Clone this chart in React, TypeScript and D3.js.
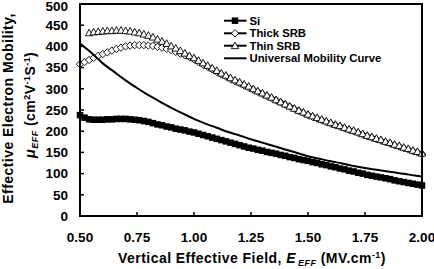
import React from "react";
import * as d3 from "d3";

// Vertical effective field sampling (MV/cm)
const FIELD_START = 0.5;
const FIELD_STEP = 0.02;
const THIN_START = 0.54;

// Electron mobility (cm^2/V.s) for bulk Si
const siMobility = [
  238, 232, 228, 227, 227, 227, 228, 228, 229, 229, 229, 228, 227, 226, 224, 222,
  219, 216, 214, 211, 209, 206, 204, 202, 199, 197, 194, 191, 188, 185, 182, 179,
  176, 173, 170, 167, 164, 161, 159, 156, 154, 151, 149, 147, 144, 142, 139, 137,
  134, 132, 130, 127, 125, 122, 120, 117, 115, 112, 110, 107, 105, 102, 100, 97,
  95, 93, 91, 89, 87, 84, 82, 80, 78, 76, 74, 72,
];

// Strained Si on thick strain-relaxed buffer
const thickSrbMobility = [
  358, 363, 368, 373, 378, 382, 386, 390, 394, 397, 400, 402, 403, 403, 403, 402,
  401, 399, 397, 394, 391, 387, 383, 379, 375, 370, 363, 357, 352, 346, 340, 334,
  329, 323, 318, 313, 308, 303, 298, 293, 288, 283, 278, 273, 268, 263, 258, 253,
  248, 243, 238, 234, 230, 226, 222, 218, 214, 211, 207, 203, 200, 196, 192, 188,
  185, 181, 178, 174, 171, 167, 164, 160, 157, 153, 150, 146,
];

// Strained Si on thin strain-relaxed buffer
const thinSrbMobility = [
  432, 434, 435, 436, 437, 437, 438, 438, 437, 436, 434, 432, 429, 426, 422, 417,
  412, 407, 401, 396, 390, 384, 378, 373, 367, 361, 355, 349, 343, 337, 332, 326,
  321, 316, 311, 306, 300, 295, 290, 285, 280, 274, 269, 264, 259, 254, 249, 245,
  240, 236, 232, 228, 224, 220, 216, 213, 209, 205, 202, 198, 194, 190, 187, 183,
  180, 176, 173, 169, 166, 162, 159, 155, 152, 148,
];

// Universal mobility curve, sampled every 0.05 MV/cm
const UNIVERSAL_STEP = 0.05;
const universalMobility = [
  407, 385, 360, 340, 320, 302, 285, 270, 255, 242, 229, 218, 208, 198, 190, 181,
  173, 165, 157, 149, 141, 135, 129, 124, 118, 113, 109, 105, 101, 97, 93,
];

const xTicks = [0.5, 0.75, 1.0, 1.25, 1.5, 1.75, 2.0];
const yTicks = [0, 50, 100, 150, 200, 250, 300, 350, 400, 450, 500];

const legendLabels = ["Si", "Thick SRB", "Thin SRB", "Universal Mobility Curve"];

const W = 434;
const H = 269;
const FONT = "'Liberation Sans', Arial, Helvetica, sans-serif";

type Pt = { e: number; v: number };

const toPoints = (vals: number[], start: number, step: number): Pt[] =>
  vals.map((v, i) => ({ e: +(start + i * step).toFixed(3), v }));

const Square = ({ x, y, s }: { x: number; y: number; s: number }) => (
  <rect x={x - s / 2} y={y - s / 2} width={s} height={s} fill="#000" />
);

const Diamond = ({ x, y, r }: { x: number; y: number; r: number }) => (
  <path
    d={`M${x},${y - r}L${x + r},${y}L${x},${y + r}L${x - r},${y}Z`}
    fill="#fff"
    stroke="#000"
    strokeWidth={0.9}
  />
);

const Triangle = ({ x, y, r }: { x: number; y: number; r: number }) => (
  <path
    d={`M${x},${y - r}L${x + r},${y + r * 0.8}L${x - r},${y + r * 0.8}Z`}
    fill="#fff"
    stroke="#000"
    strokeWidth={0.9}
  />
);

export default function App() {
  const left = 80;
  const right = 422;
  const top = 4;
  const bottom = 216;

  const x = d3.scaleLinear().domain([0.5, 2.0]).range([left, right]);
  const y = d3.scaleLinear().domain([0, 500]).range([bottom, top]);

  const si = toPoints(siMobility, FIELD_START, FIELD_STEP);
  const thick = toPoints(thickSrbMobility, FIELD_START, FIELD_STEP);
  const thin = toPoints(thinSrbMobility, THIN_START, FIELD_STEP);
  const uni = toPoints(universalMobility, FIELD_START, UNIVERSAL_STEP);

  const line = d3
    .line<Pt>()
    .x((d) => x(d.e))
    .y((d) => y(d.v))
    .curve(d3.curveMonotoneX);

  const legendX = 224;
  const legendRows = [20.7, 33.3, 45.7, 58.3];

  return (
    <svg
      width={W}
      height={H}
      style={{ position: "absolute", left: 0, top: 0, background: "#fff" }}
      fontFamily={FONT}
      fontWeight="bold"
    >
      <rect width={W} height={H} fill="#fff" />

      {/* series */}
      <g>
        {si.map((d, i) => (
          <Square key={"s" + i} x={x(d.e)} y={y(d.v)} s={6.5} />
        ))}
        {thick.map((d, i) => (
          <Diamond key={"d" + i} x={x(d.e)} y={y(d.v)} r={3.7} />
        ))}
        {thin.map((d, i) => (
          <Triangle key={"t" + i} x={x(d.e)} y={y(d.v)} r={3.7} />
        ))}
        <path d={line(uni) || ""} fill="none" stroke="#000" strokeWidth={2} />
      </g>

      {/* frame */}
      <rect
        x={left}
        y={top}
        width={right - left}
        height={bottom - top}
        fill="none"
        stroke="#000"
        strokeWidth={2}
      />

      {/* y axis ticks and labels */}
      <g fontSize={13.5} textAnchor="end">
        {yTicks.map((t) => (
          <g key={"y" + t}>
            <line x1={left} x2={left + 4} y1={y(t)} y2={y(t)} stroke="#000" strokeWidth={1.5} />
            <text x={68} y={Math.max(y(t) + 4.8, 10.5)}>
              {t}
            </text>
          </g>
        ))}
      </g>

      {/* x axis ticks and labels */}
      <g fontSize={13.5} textAnchor="middle">
        {xTicks.map((t) => (
          <g key={"x" + t}>
            <line x1={x(t)} x2={x(t)} y1={bottom} y2={bottom - 4} stroke="#000" strokeWidth={1.5} />
            <text x={x(t)} y={242}>
              {t.toFixed(2)}
            </text>
          </g>
        ))}
      </g>

      {/* x axis title */}
      <text x={252} y={263} fontSize={14} textAnchor="middle" letterSpacing={0.45}>
        Vertical Effective Field,{" "}
        <tspan fontStyle="italic">E</tspan>
        <tspan fontStyle="italic" fontSize={9} dy={2.5} dx={2}>
          EFF
        </tspan>
        <tspan dy={-2.5}> (MV.cm</tspan>
        <tspan fontSize={9} dy={-5.5}>
          -1
        </tspan>
        <tspan dy={5.5}>)</tspan>
      </text>

      {/* y axis title */}
      <text
        transform="translate(12.5,108.5) rotate(-90)"
        fontSize={14}
        textAnchor="middle"
        letterSpacing={0.45}
      >
        Effective Electron Mobility,
      </text>
      <text
        transform="translate(35,105) rotate(-90)"
        fontSize={14}
        textAnchor="middle"
        letterSpacing={0.45}
      >
        <tspan fontStyle="italic" fontSize={15}>μ</tspan>
        <tspan fontStyle="italic" fontSize={9} dy={2.5}>
          EFF
        </tspan>
        <tspan dy={-2.5}> (cm</tspan>
        <tspan fontSize={9} dy={-5.5}>
          2
        </tspan>
        <tspan dy={5.5}>V</tspan>
        <tspan fontSize={9} dy={-5.5}>
          -1
        </tspan>
        <tspan dy={5.5}>S</tspan>
        <tspan fontSize={9} dy={-5.5}>
          -1
        </tspan>
        <tspan dy={5.5}>)</tspan>
      </text>

      {/* legend */}
      <g fontSize={11.3}>
        {legendLabels.map((lab, i) => {
          const ly = legendRows[i];
          const cx = legendX + 11;
          return (
            <g key={lab}>
              <line x1={legendX} x2={legendX + 22.5} y1={ly} y2={ly} stroke="#000" strokeWidth={2} />
              {i === 0 && <Square x={cx} y={ly} s={6.5} />}
              {i === 1 && <Diamond x={cx} y={ly} r={3.7} />}
              {i === 2 && <Triangle x={cx} y={ly} r={3.7} />}
              <text x={249.5} y={ly + 4}>
                {lab}
              </text>
            </g>
          );
        })}
      </g>
    </svg>
  );
}
